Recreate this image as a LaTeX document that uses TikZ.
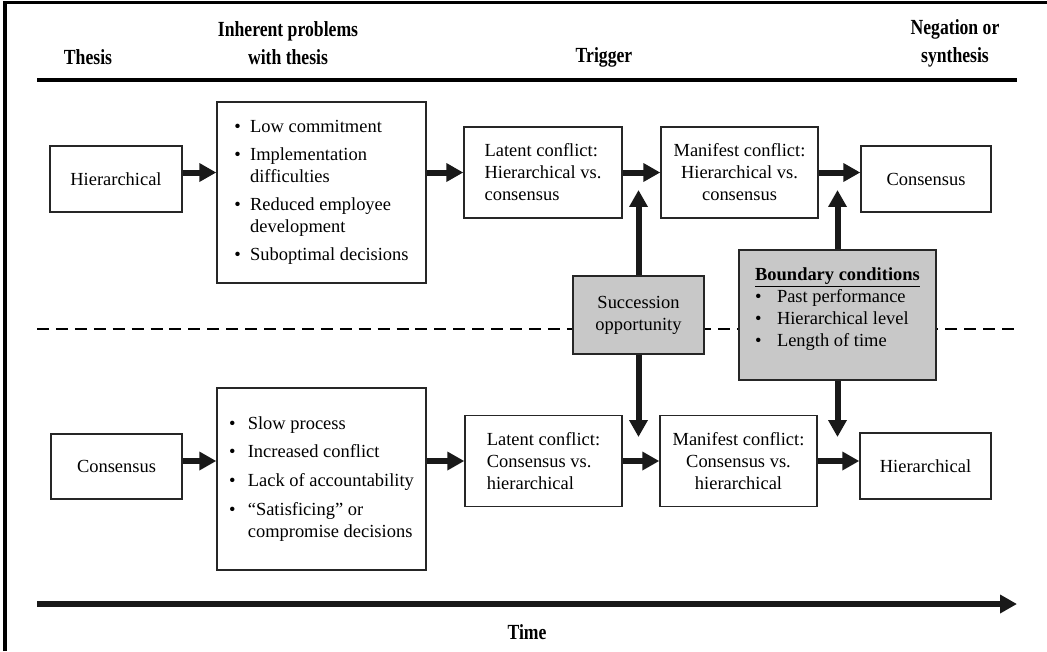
\documentclass[tikz,border=0pt]{standalone}
\usepackage{fontspec}
\setmainfont{Liberation Serif}
\newfontfamily\headfont{Liberation Serif}[UprightFont=* Bold, FakeStretch=0.82]
\usepackage{xcolor}
\usetikzlibrary{arrows.meta}
\definecolor{boxgray}{RGB}{200,200,200}

\begin{document}
\begin{tikzpicture}[x=0.65pt, y=-0.65pt,
    every node/.style={font=\fontsize{12}{14.3}\selectfont},
    wh/.style 2 args={minimum width=#1*0.65pt, minimum height=#2*0.65pt},
    box/.style={rectangle, draw=black!85, line width=0.9pt, inner sep=0pt, align=center},
    graybox/.style={box, fill=boxgray},
    head/.style={font=\headfont\fontsize{14}{18.2}\selectfont, align=center},
    arrow/.style={-{Triangle[length=11pt, width=11.5pt]}, line width=3.9pt, black!90},
    rule/.style={line width=2.2pt}
]
\useasboundingbox (0,0) rectangle (1047,651);
\draw[line width=2pt] (5,651) -- (5,2.5) -- (1047,2.5);

% column heads
\node[head] (hThesis) at (88,57) {Thesis};
\node[head] (hProb) at (288,43) {Inherent problems\\with thesis};
\node[head] (hTrig) at (604,57) {Trigger};
\node[head] (hNeg) at (955,43) {Negation or\\synthesis};
\draw[rule] (37,80) -- (1017,80);
\draw[line width=1.3pt, dash pattern=on 7.8pt off 4.5pt] (37,329) -- (1017,329);

% hierarchical -> consensus
\node[box, wh={132}{66}] (hierA) at (116,179) {Hierarchical};
\node[box, wh={209}{181}] (probA) at (321.5,192.5) {\begin{tabular}{@{}l@{\hspace{6pt}}l@{}}
\textbullet & Low commitment\\[3.9pt]
\textbullet & Implementation\\ & difficulties\\[3.9pt]
\textbullet & Reduced employee\\ & development\\[3.9pt]
\textbullet & Suboptimal decisions
\end{tabular}};
\node[box, wh={158}{91}, align=left] (latA) at (543,172.5) {Latent conflict:\\Hierarchical vs.\\consensus};
\node[box, wh={157}{91}] (manA) at (739.5,172.5) {Manifest conflict:\\Hierarchical vs.\\consensus};
\node[box, wh={130}{66}] (consA) at (926,179) {Consensus};

% consensus -> hierarchical
\node[box, wh={131}{65}] (consB) at (116.5,466.5) {Consensus};
\node[box, wh={209}{182}] (probB) at (321.5,479) {\begin{tabular}{@{}l@{\hspace{8pt}}l@{}}
\textbullet & Slow process\\[4.5pt]
\textbullet & Increased conflict\\[4.5pt]
\textbullet & Lack of accountability\\[4.5pt]
\textbullet & ``Satisficing'' or\\ & compromise decisions
\end{tabular}};
\node[box, wh={157}{91}, align=left] (latB) at (543.5,461) {Latent conflict:\\Consensus vs.\\hierarchical};
\node[box, wh={157}{91}] (manB) at (738.5,461) {Manifest conflict:\\Consensus vs.\\hierarchical};
\node[box, wh={131}{66}] (hierB) at (925.5,466) {Hierarchical};

% triggers
\node[graybox, wh={131}{78}] (succ) at (638.5,315) {Succession\\opportunity};
\node[graybox, wh={197}{130}] (bound) at (837.5,315) {};
\node[anchor=north, inner sep=0pt] (boundTxt) at ([yshift=-10pt]bound.north) {\begin{tabular}{@{}l@{\hspace{10pt}}l@{}}
\multicolumn{2}{@{}c@{}}{\textbf{\underline{Boundary conditions}}}\\
\textbullet & Past performance\\
\textbullet & Hierarchical level\\
\textbullet & Length of time
\end{tabular}};

\draw[arrow] (hierA.east |- latA.west) -- (probA.west |- latA.west);
\draw[arrow] (probA.east |- latA.west) -- (latA.west);
\draw[arrow] (latA) -- (manA);
\draw[arrow] (manA.east) -- (consA.west |- manA.east);
\draw[arrow] (consB.east |- latB.west) -- (probB.west |- latB.west);
\draw[arrow] (probB.east |- latB.west) -- (latB.west);
\draw[arrow] (latB) -- (manB);
\draw[arrow] (manB.east) -- (hierB.west |- manB.east);

\coordinate (succUp) at (638.5,190);
\coordinate (succDn) at (638.5,437);
\coordinate (boundUp) at (837.5,190);
\coordinate (boundDn) at (837.5,437);
\draw[arrow] (succ.north) -- (succUp);
\draw[arrow] (succ.south) -- (succDn);
\draw[arrow] (bound.north) -- (boundUp);
\draw[arrow] (bound.south) -- (boundDn);

% time axis
\coordinate (tStart) at (37,604);
\coordinate (tEnd) at (1017,604);
\draw[arrow] (tStart) -- (tEnd);
\node[head] (time) at (527,632) {Time};
\end{tikzpicture}
\end{document}
